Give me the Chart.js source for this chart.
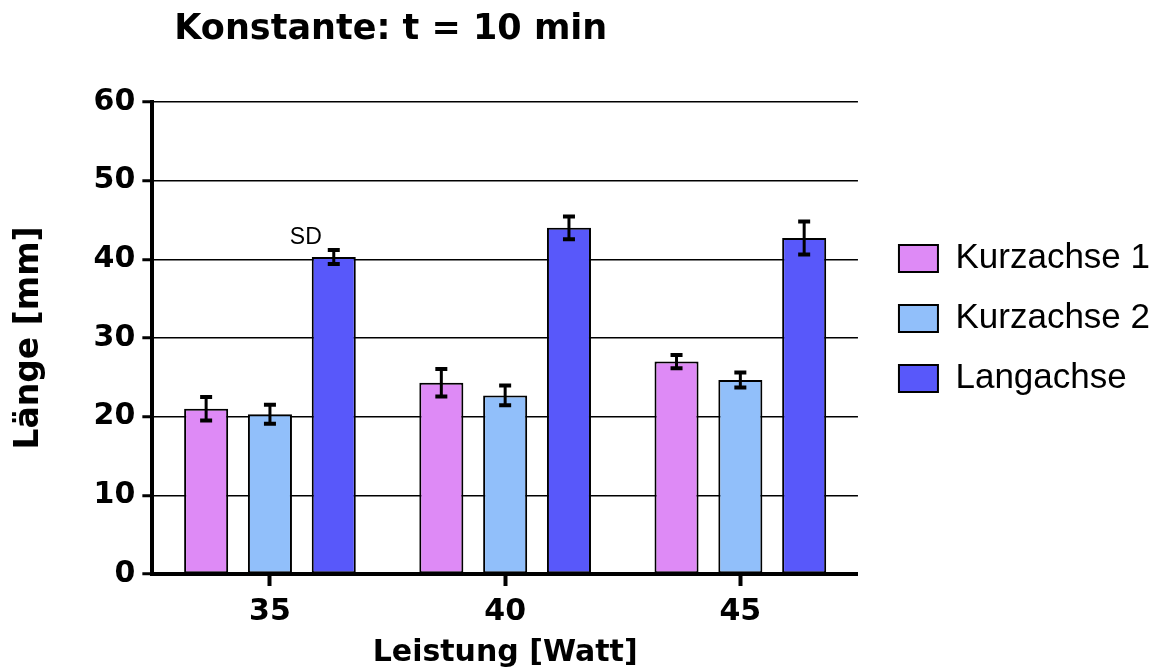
<!DOCTYPE html>
<html>
<head>
<meta charset="utf-8">
<script src="https://cdn.jsdelivr.net/npm/chart.js@4"></script>
<style>
  body { margin: 0; background: #fff; }
  #wrap { width: 1173px; height: 671px; }
</style>
</head>
<body>
<div id="wrap"><canvas id="chart" width="1173" height="671"></canvas></div>
<script>
// Données
const categories = ['35', '40', '45'];
const seriesNames = ['Kurzachse 1', 'Kurzachse 2', 'Langachse'];
const kurzachse1 = [21.0, 24.3, 27.0];
const kurzachse2 = [20.3, 22.7, 24.65];
const langachse = [40.3, 44.0, 42.7];
const sdKurzachse1 = [1.5, 1.75, 0.85];
const sdKurzachse2 = [1.2, 1.25, 0.95];
const sdLangachse = [0.9, 1.45, 2.1];
const yTicks = [0, 10, 20, 30, 40, 50, 60];

const colors = ['#DE8AF6', '#91BFFA', '#5858FA'];
const boldFont = "'DejaVu Sans'";
const plainFont = "'Liberation Sans', Arial, sans-serif";

// Barres d'erreur (moyenne +/- SD)
const errorBars = {
  id: 'errorBars',
  afterDatasetsDraw(chart) {
    const ctx = chart.ctx;
    const yScale = chart.scales.y;
    ctx.save();
    ctx.strokeStyle = '#000';
    chart.data.datasets.forEach((ds, i) => {
      const meta = chart.getDatasetMeta(i);
      meta.data.forEach((bar, j) => {
        const top = yScale.getPixelForValue(ds.data[j] + ds.sd[j]);
        const bottom = yScale.getPixelForValue(ds.data[j] - ds.sd[j]);
        ctx.lineWidth = 3;
        ctx.beginPath();
        ctx.moveTo(bar.x, top);
        ctx.lineTo(bar.x, bottom);
        ctx.stroke();
        ctx.lineWidth = 4;
        ctx.beginPath();
        ctx.moveTo(bar.x - 6, top);
        ctx.lineTo(bar.x + 6, top);
        ctx.moveTo(bar.x - 6, bottom);
        ctx.lineTo(bar.x + 6, bottom);
        ctx.stroke();
      });
    });
    // étiquette "SD" au-dessus de la première Langachse
    const bar = chart.getDatasetMeta(2).data[0];
    const yTop = yScale.getPixelForValue(langachse[0] + sdLangachse[0]);
    ctx.fillStyle = '#000';
    ctx.font = '23px ' + plainFont;
    ctx.textAlign = 'center';
    ctx.textBaseline = 'middle';
    ctx.fillText('SD', bar.x - 28, yTop - 12);
    ctx.restore();
  }
};

// Décaler le titre pour l'aligner comme sur l'original
const titleShift = {
  id: 'titleShift',
  afterLayout(chart) {
    if (chart.titleBlock) {
      chart.titleBlock.left += 22;
      chart.titleBlock.right += 22;
    }
  }
};

const ctx = document.getElementById('chart').getContext('2d');
new Chart(ctx, {
  type: 'bar',
  data: {
    labels: categories,
    datasets: [
      { label: seriesNames[0], data: kurzachse1, sd: sdKurzachse1, backgroundColor: colors[0] },
      { label: seriesNames[1], data: kurzachse2, sd: sdKurzachse2, backgroundColor: colors[1] },
      { label: seriesNames[2], data: langachse, sd: sdLangachse, backgroundColor: colors[2] }
    ].map(d => Object.assign(d, {
      borderColor: '#000',
      borderWidth: 2,
      borderSkipped: false,
      categoryPercentage: 0.814,
      barPercentage: 0.69
    }))
  },
  options: {
    responsive: false,
    animation: false,
    layout: { padding: { top: -34, left: 6, right: 13, bottom: 0 } },
    plugins: {
      tooltip: { enabled: false },
      title: {
        display: true,
        text: 'Konstante: t = 10 min',
        align: 'start',
        fullSize: false,
        color: '#000',
        font: { family: boldFont, size: 35, weight: 'bold' },
        padding: { top: 43, bottom: 51 }
      },
      legend: {
        position: 'right',
        align: 'center',
        labels: {
          color: '#000',
          font: { family: plainFont, size: 35 },
          boxWidth: 39,
          boxHeight: 27,
          padding: 25
        }
      }
    },
    scales: {
      x: {
        grid: {
          display: true,
          drawOnChartArea: false,
          offset: false,
          drawTicks: true,
          tickLength: 12,
          tickWidth: 4,
          tickColor: '#000'
        },
        border: { display: true, color: '#000', width: 4 },
        ticks: {
          color: '#000',
          padding: 8,
          font: { family: boldFont, size: 30, weight: 'bold' }
        },
        title: {
          display: true,
          text: 'Leistung [Watt]',
          color: '#000',
          font: { family: boldFont, size: 30, weight: 'bold' },
          padding: { top: -3, bottom: 0 }
        }
      },
      y: {
        min: 0,
        max: 60,
        afterBuildTicks(scale) {
          scale.ticks = yTicks.map(v => ({ value: v }));
        },
        grid: {
          color: '#000',
          lineWidth: 1.5,
          drawTicks: true,
          tickLength: 10,
          tickWidth: 3,
          tickColor: '#000'
        },
        border: { display: true, color: '#000', width: 4 },
        ticks: {
          color: '#000',
          padding: 7,
          font: { family: boldFont, size: 30, weight: 'bold' }
        },
        title: {
          display: true,
          text: 'Länge [mm]',
          color: '#000',
          font: { family: boldFont, size: 33, weight: 'bold' },
          padding: { top: 4, bottom: 37 }
        }
      },
      // espace vide entre le graphique et la légende
      yPad: {
        type: 'linear',
        position: 'right',
        display: false,
        afterFit(scale) { scale.width = 16; }
      }
    }
  },
  plugins: [errorBars, titleShift]
});
</script>
</body>
</html>
